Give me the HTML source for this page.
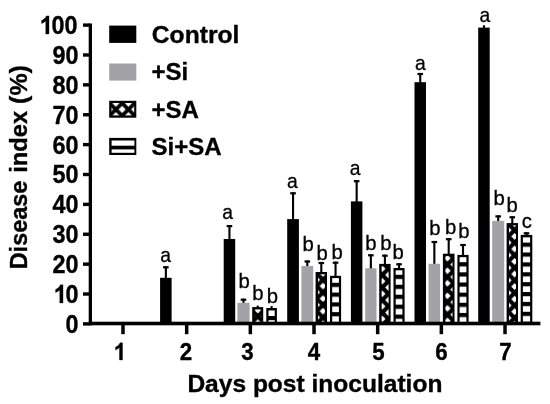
<!DOCTYPE html>
<html><head><meta charset="utf-8"><title>Disease index</title>
<style>html,body{margin:0;padding:0;background:#fff;}svg{display:block;}text{font-family:"Liberation Sans",sans-serif;fill:#000;}.b{font-weight:bold;font-size:24px;stroke:#000;stroke-width:0.35px;}.l{font-size:19.5px;stroke:#000;stroke-width:0.3px;}</style></head><body>
<svg width="550" height="404" viewBox="0 0 550 404">
<defs>
<pattern id="p3" patternUnits="userSpaceOnUse" x="257.80" y="310.10" width="12.55" height="12.55"><rect width="12.55" height="12.55" fill="#000"/><polygon points="-3.30,0.00 0.00,-3.30 3.30,0.00 0.00,3.30" fill="#fff"/><polygon points="9.25,0.00 12.55,-3.30 15.85,0.00 12.55,3.30" fill="#fff"/><polygon points="-3.30,12.55 0.00,9.25 3.30,12.55 0.00,15.85" fill="#fff"/><polygon points="9.25,12.55 12.55,9.25 15.85,12.55 12.55,15.85" fill="#fff"/><polygon points="2.98,6.28 6.28,2.98 9.57,6.28 6.28,9.57" fill="#fff"/></pattern>
<pattern id="p4" patternUnits="userSpaceOnUse" x="0" y="316.00" width="30" height="10.0"><rect width="30" height="10.0" fill="#fff"/><rect width="30" height="4.2" fill="#000"/></pattern>
<pattern id="p7" patternUnits="userSpaceOnUse" x="316.70" y="279.80" width="12.55" height="12.55"><rect width="12.55" height="12.55" fill="#000"/><polygon points="-3.30,0.00 0.00,-3.30 3.30,0.00 0.00,3.30" fill="#fff"/><polygon points="9.25,0.00 12.55,-3.30 15.85,0.00 12.55,3.30" fill="#fff"/><polygon points="-3.30,12.55 0.00,9.25 3.30,12.55 0.00,15.85" fill="#fff"/><polygon points="9.25,12.55 12.55,9.25 15.85,12.55 12.55,15.85" fill="#fff"/><polygon points="2.98,6.28 6.28,2.98 9.57,6.28 6.28,9.57" fill="#fff"/></pattern>
<pattern id="p8" patternUnits="userSpaceOnUse" x="0" y="282.80" width="30" height="9.78"><rect width="30" height="9.78" fill="#fff"/><rect width="30" height="4.2" fill="#000"/></pattern>
<pattern id="p11" patternUnits="userSpaceOnUse" x="382.20" y="268.70" width="12.55" height="12.55"><rect width="12.55" height="12.55" fill="#000"/><polygon points="-3.30,0.00 0.00,-3.30 3.30,0.00 0.00,3.30" fill="#fff"/><polygon points="9.25,0.00 12.55,-3.30 15.85,0.00 12.55,3.30" fill="#fff"/><polygon points="-3.30,12.55 0.00,9.25 3.30,12.55 0.00,15.85" fill="#fff"/><polygon points="9.25,12.55 12.55,9.25 15.85,12.55 12.55,15.85" fill="#fff"/><polygon points="2.98,6.28 6.28,2.98 9.57,6.28 6.28,9.57" fill="#fff"/></pattern>
<pattern id="p12" patternUnits="userSpaceOnUse" x="0" y="274.80" width="30" height="9.95"><rect width="30" height="9.95" fill="#fff"/><rect width="30" height="4.2" fill="#000"/></pattern>
<pattern id="p15" patternUnits="userSpaceOnUse" x="447.40" y="258.20" width="12.55" height="12.55"><rect width="12.55" height="12.55" fill="#000"/><polygon points="-3.30,0.00 0.00,-3.30 3.30,0.00 0.00,3.30" fill="#fff"/><polygon points="9.25,0.00 12.55,-3.30 15.85,0.00 12.55,3.30" fill="#fff"/><polygon points="-3.30,12.55 0.00,9.25 3.30,12.55 0.00,15.85" fill="#fff"/><polygon points="9.25,12.55 12.55,9.25 15.85,12.55 12.55,15.85" fill="#fff"/><polygon points="2.98,6.28 6.28,2.98 9.57,6.28 6.28,9.57" fill="#fff"/></pattern>
<pattern id="p16" patternUnits="userSpaceOnUse" x="0" y="262.20" width="30" height="10.14"><rect width="30" height="10.14" fill="#fff"/><rect width="30" height="4.2" fill="#000"/></pattern>
<pattern id="p19" patternUnits="userSpaceOnUse" x="508.30" y="230.10" width="12.55" height="12.55"><rect width="12.55" height="12.55" fill="#000"/><polygon points="-3.30,0.00 0.00,-3.30 3.30,0.00 0.00,3.30" fill="#fff"/><polygon points="9.25,0.00 12.55,-3.30 15.85,0.00 12.55,3.30" fill="#fff"/><polygon points="-3.30,12.55 0.00,9.25 3.30,12.55 0.00,15.85" fill="#fff"/><polygon points="9.25,12.55 12.55,9.25 15.85,12.55 12.55,15.85" fill="#fff"/><polygon points="2.98,6.28 6.28,2.98 9.57,6.28 6.28,9.57" fill="#fff"/></pattern>
<pattern id="p20" patternUnits="userSpaceOnUse" x="0" y="242.60" width="30" height="9.886"><rect width="30" height="9.886" fill="#fff"/><rect width="30" height="4.2" fill="#000"/></pattern>
<pattern id="cxl" patternUnits="userSpaceOnUse" x="122.15" y="109.45" width="12.55" height="12.55"><rect width="12.55" height="12.55" fill="#000"/><polygon points="-3.65,0.00 0.00,-3.65 3.65,0.00 0.00,3.65" fill="#fff"/><polygon points="8.90,0.00 12.55,-3.65 16.20,0.00 12.55,3.65" fill="#fff"/><polygon points="-3.65,12.55 0.00,8.90 3.65,12.55 0.00,16.20" fill="#fff"/><polygon points="8.90,12.55 12.55,8.90 16.20,12.55 12.55,16.20" fill="#fff"/><polygon points="2.63,6.28 6.28,2.63 9.93,6.28 6.28,9.93" fill="#fff"/></pattern>
<filter id="soft" filterUnits="userSpaceOnUse" x="0" y="0" width="550" height="404"><feGaussianBlur stdDeviation="0.45"/></filter>
</defs>
<rect width="550" height="404" fill="#fff"/>
<g filter="url(#soft)">
<rect width="550" height="404" fill="#fff"/>
<rect x="164.80" y="266.30" width="2.1" height="12.50" fill="#000"/>
<rect x="163.05" y="266.20" width="5.6" height="2.2" fill="#000"/>
<rect x="160.10" y="277.80" width="11.50" height="45.70" fill="#000"/>
<rect x="228.40" y="225.10" width="2.1" height="14.90" fill="#000"/>
<rect x="226.65" y="225.00" width="5.6" height="2.2" fill="#000"/>
<rect x="223.70" y="239.00" width="11.50" height="84.50" fill="#000"/>
<rect x="242.45" y="298.70" width="2.1" height="5.10" fill="#000"/>
<rect x="240.70" y="298.60" width="5.6" height="2.2" fill="#000"/>
<rect x="237.40" y="302.80" width="12.20" height="20.70" fill="#a3a3a7"/>
<rect x="256.65" y="305.60" width="2.1" height="2.50" fill="#000"/>
<rect x="252.20" y="307.10" width="11.00" height="16.40" fill="#000"/>
<rect x="254.60" y="309.40" width="6.60" height="14.10" fill="url(#p3)"/>
<rect x="270.55" y="306.10" width="2.1" height="2.90" fill="#000"/>
<rect x="266.30" y="308.00" width="10.60" height="15.50" fill="#000"/>
<rect x="268.50" y="310.30" width="6.20" height="13.20" fill="url(#p4)"/>
<rect x="292.00" y="192.30" width="2.1" height="27.80" fill="#000"/>
<rect x="290.25" y="192.20" width="5.6" height="2.2" fill="#000"/>
<rect x="287.20" y="219.10" width="11.70" height="104.40" fill="#000"/>
<rect x="306.25" y="260.50" width="2.1" height="6.50" fill="#000"/>
<rect x="304.50" y="260.40" width="5.6" height="2.2" fill="#000"/>
<rect x="301.40" y="266.00" width="11.80" height="57.50" fill="#a3a3a7"/>
<rect x="320.25" y="262.00" width="2.1" height="11.00" fill="#000"/>
<rect x="318.50" y="261.90" width="5.6" height="2.2" fill="#000"/>
<rect x="315.60" y="272.00" width="11.40" height="51.50" fill="#000"/>
<rect x="318.00" y="274.30" width="7.00" height="49.20" fill="url(#p7)"/>
<rect x="334.50" y="261.70" width="2.1" height="15.10" fill="#000"/>
<rect x="332.75" y="261.60" width="5.6" height="2.2" fill="#000"/>
<rect x="330.00" y="275.80" width="11.10" height="47.70" fill="#000"/>
<rect x="332.20" y="278.10" width="6.70" height="45.40" fill="url(#p8)"/>
<rect x="355.60" y="180.20" width="2.1" height="22.20" fill="#000"/>
<rect x="353.85" y="180.10" width="5.6" height="2.2" fill="#000"/>
<rect x="350.90" y="201.40" width="11.50" height="122.10" fill="#000"/>
<rect x="369.80" y="254.30" width="2.1" height="15.00" fill="#000"/>
<rect x="368.05" y="254.20" width="5.6" height="2.2" fill="#000"/>
<rect x="365.20" y="268.30" width="11.30" height="55.20" fill="#a3a3a7"/>
<rect x="383.85" y="254.70" width="2.1" height="10.20" fill="#000"/>
<rect x="382.10" y="254.60" width="5.6" height="2.2" fill="#000"/>
<rect x="379.20" y="263.90" width="11.40" height="59.60" fill="#000"/>
<rect x="381.60" y="266.20" width="7.00" height="57.30" fill="url(#p11)"/>
<rect x="398.00" y="263.30" width="2.1" height="5.70" fill="#000"/>
<rect x="396.25" y="263.20" width="5.6" height="2.2" fill="#000"/>
<rect x="393.50" y="268.00" width="11.10" height="55.50" fill="#000"/>
<rect x="395.70" y="270.30" width="6.70" height="53.20" fill="url(#p12)"/>
<rect x="419.20" y="73.00" width="2.1" height="10.20" fill="#000"/>
<rect x="417.45" y="72.90" width="5.6" height="2.2" fill="#000"/>
<rect x="414.50" y="82.20" width="11.50" height="241.30" fill="#000"/>
<rect x="433.30" y="241.00" width="2.1" height="23.80" fill="#000"/>
<rect x="431.55" y="240.90" width="5.6" height="2.2" fill="#000"/>
<rect x="428.60" y="263.80" width="11.50" height="59.70" fill="#a3a3a7"/>
<rect x="447.65" y="238.20" width="2.1" height="16.50" fill="#000"/>
<rect x="445.90" y="238.10" width="5.6" height="2.2" fill="#000"/>
<rect x="442.90" y="253.70" width="11.60" height="69.80" fill="#000"/>
<rect x="445.30" y="256.00" width="7.20" height="67.50" fill="url(#p15)"/>
<rect x="461.95" y="244.00" width="2.1" height="11.90" fill="#000"/>
<rect x="460.20" y="243.90" width="5.6" height="2.2" fill="#000"/>
<rect x="457.40" y="254.90" width="11.20" height="68.60" fill="#000"/>
<rect x="459.60" y="257.20" width="6.80" height="66.30" fill="url(#p16)"/>
<rect x="482.90" y="25.30" width="2.1" height="3.30" fill="#000"/>
<rect x="478.20" y="27.60" width="11.50" height="295.90" fill="#000"/>
<rect x="497.15" y="215.40" width="2.1" height="6.50" fill="#000"/>
<rect x="495.40" y="215.30" width="5.6" height="2.2" fill="#000"/>
<rect x="492.20" y="220.90" width="12.00" height="102.60" fill="#a3a3a7"/>
<rect x="511.25" y="216.30" width="2.1" height="7.80" fill="#000"/>
<rect x="509.50" y="216.20" width="5.6" height="2.2" fill="#000"/>
<rect x="506.60" y="223.10" width="11.40" height="100.40" fill="#000"/>
<rect x="509.00" y="225.40" width="7.00" height="98.10" fill="url(#p19)"/>
<rect x="525.45" y="232.30" width="2.1" height="3.60" fill="#000"/>
<rect x="523.70" y="232.20" width="5.6" height="2.2" fill="#000"/>
<rect x="520.70" y="234.90" width="11.60" height="88.60" fill="#000"/>
<rect x="522.90" y="237.20" width="7.20" height="86.30" fill="url(#p20)"/>
<rect x="88.7" y="23.5" width="3.3" height="301.8" fill="#000"/>
<rect x="88.7" y="321.7" width="451.7" height="3.6" fill="#000"/>
<rect x="83" y="322.20" width="7" height="3.4" fill="#000"/>
<text class="b" transform="translate(78.60,332.80) scale(0.975,1.05)" text-anchor="end">0</text>
<rect x="83" y="292.32" width="7" height="3.4" fill="#000"/>
<text class="b" transform="translate(78.60,302.92) scale(0.975,1.05)" text-anchor="end">0</text>
<path d="M806 0H525V1059Q371 915 162 846V1101Q272 1137 401 1237.5Q530 1338 578 1472H806Z" stroke="#000" stroke-width="30" transform="translate(53.77,302.92) scale(0.01143,-0.01230)"/>
<rect x="83" y="262.44" width="7" height="3.4" fill="#000"/>
<text class="b" transform="translate(78.60,273.04) scale(0.975,1.05)" text-anchor="end">20</text>
<rect x="83" y="232.56" width="7" height="3.4" fill="#000"/>
<text class="b" transform="translate(78.60,243.16) scale(0.975,1.05)" text-anchor="end">30</text>
<rect x="83" y="202.68" width="7" height="3.4" fill="#000"/>
<text class="b" transform="translate(78.60,213.28) scale(0.975,1.05)" text-anchor="end">40</text>
<rect x="83" y="172.80" width="7" height="3.4" fill="#000"/>
<text class="b" transform="translate(78.60,183.40) scale(0.975,1.05)" text-anchor="end">50</text>
<rect x="83" y="142.92" width="7" height="3.4" fill="#000"/>
<text class="b" transform="translate(78.60,153.52) scale(0.975,1.05)" text-anchor="end">60</text>
<rect x="83" y="113.04" width="7" height="3.4" fill="#000"/>
<text class="b" transform="translate(78.60,123.64) scale(0.975,1.05)" text-anchor="end">70</text>
<rect x="83" y="83.16" width="7" height="3.4" fill="#000"/>
<text class="b" transform="translate(78.60,93.76) scale(0.975,1.05)" text-anchor="end">80</text>
<rect x="83" y="53.28" width="7" height="3.4" fill="#000"/>
<text class="b" transform="translate(78.60,63.88) scale(0.975,1.05)" text-anchor="end">90</text>
<rect x="83" y="23.40" width="7" height="3.4" fill="#000"/>
<text class="b" transform="translate(77.60,34.00) scale(0.975,1.05)" text-anchor="end">00</text>
<path d="M806 0H525V1059Q371 915 162 846V1101Q272 1137 401 1237.5Q530 1338 578 1472H806Z" stroke="#000" stroke-width="30" transform="translate(39.76,34.00) scale(0.01143,-0.01230)"/>
<rect x="121.25" y="323" width="3.5" height="11.2" fill="#000"/>
<path d="M806 0H525V1059Q371 915 162 846V1101Q272 1137 401 1237.5Q530 1338 578 1472H806Z" stroke="#000" stroke-width="30" transform="translate(113.72,360.00) scale(0.01090,-0.01172)"/>
<rect x="184.92" y="323" width="3.5" height="11.2" fill="#000"/>
<text class="b" transform="translate(185.85,360.0) scale(0.93,1)" text-anchor="middle">2</text>
<rect x="248.59" y="323" width="3.5" height="11.2" fill="#000"/>
<text class="b" transform="translate(247.35,360.0) scale(0.93,1)" text-anchor="middle">3</text>
<rect x="312.26" y="323" width="3.5" height="11.2" fill="#000"/>
<text class="b" transform="translate(313.85,360.0) scale(0.93,1)" text-anchor="middle">4</text>
<rect x="375.93" y="323" width="3.5" height="11.2" fill="#000"/>
<text class="b" transform="translate(378.35,360.0) scale(0.93,1)" text-anchor="middle">5</text>
<rect x="439.60" y="323" width="3.5" height="11.2" fill="#000"/>
<text class="b" transform="translate(441.40,360.0) scale(0.93,1)" text-anchor="middle">6</text>
<rect x="503.27" y="323" width="3.5" height="11.2" fill="#000"/>
<text class="b" transform="translate(505.40,360.0) scale(0.93,1)" text-anchor="middle">7</text>
<text class="b" x="314.90" y="391.50" text-anchor="middle" textLength="255.0" lengthAdjust="spacingAndGlyphs">Days post inoculation</text>
<text class="b" transform="translate(26.6,269.3) rotate(-90)" textLength="88.6" lengthAdjust="spacingAndGlyphs">Disease</text>
<text class="b" transform="translate(26.6,172.8) rotate(-90)" textLength="62.0" lengthAdjust="spacingAndGlyphs">index</text>
<text class="b" transform="translate(26.6,103.9) rotate(-90)" textLength="38.8" lengthAdjust="spacingAndGlyphs">(%)</text>
<rect x="109.2" y="25.6" width="27.1" height="17.3" fill="#000"/>
<rect x="109.2" y="63.5" width="27.1" height="17.1" fill="#a3a3a7"/>
<rect x="109.2" y="100.8" width="27.1" height="16.9" fill="#000"/>
<rect x="111.5" y="103.0" width="22.7" height="12.4" fill="url(#cxl)"/>
<rect x="109.2" y="137.9" width="27.1" height="17.1" fill="#000"/>
<rect x="111.6" y="140.5" width="22.8" height="5.2" fill="#fff"/>
<rect x="111.6" y="149.4" width="22.8" height="3.4" fill="#fff"/>
<text class="b" x="151.80" y="43.10" text-anchor="start" textLength="87.6" lengthAdjust="spacingAndGlyphs">Control</text>
<text class="b" x="151.50" y="80.10" text-anchor="start">+Si</text>
<text class="b" x="151.50" y="117.50" text-anchor="start">+SA</text>
<text class="b" x="151.50" y="155.00" text-anchor="start">Si+SA</text>
<text class="l" style="font-size:20.5px" transform="translate(165.70,261.50) scale(0.94,1)" text-anchor="middle">a</text>
<text class="l" style="font-size:20.5px" transform="translate(227.70,219.20) scale(0.94,1)" text-anchor="middle">a</text>
<text class="l" transform="translate(244.20,287.60) scale(1.04,1)" text-anchor="middle">b</text>
<text class="l" transform="translate(258.00,299.60) scale(1.04,1)" text-anchor="middle">b</text>
<text class="l" transform="translate(272.30,302.60) scale(1.04,1)" text-anchor="middle">b</text>
<text class="l" style="font-size:20.5px" transform="translate(292.30,187.50) scale(0.94,1)" text-anchor="middle">a</text>
<text class="l" transform="translate(308.20,250.90) scale(1.04,1)" text-anchor="middle">b</text>
<text class="l" transform="translate(322.10,260.40) scale(1.04,1)" text-anchor="middle">b</text>
<text class="l" transform="translate(337.10,259.20) scale(1.04,1)" text-anchor="middle">b</text>
<text class="l" style="font-size:20.5px" transform="translate(355.20,175.10) scale(0.94,1)" text-anchor="middle">a</text>
<text class="l" transform="translate(370.80,249.90) scale(1.04,1)" text-anchor="middle">b</text>
<text class="l" transform="translate(386.00,250.00) scale(1.04,1)" text-anchor="middle">b</text>
<text class="l" transform="translate(398.20,258.50) scale(1.04,1)" text-anchor="middle">b</text>
<text class="l" style="font-size:20.5px" transform="translate(420.30,70.40) scale(0.94,1)" text-anchor="middle">a</text>
<text class="l" transform="translate(434.90,234.90) scale(1.04,1)" text-anchor="middle">b</text>
<text class="l" transform="translate(450.60,234.30) scale(1.04,1)" text-anchor="middle">b</text>
<text class="l" transform="translate(464.00,237.90) scale(1.04,1)" text-anchor="middle">b</text>
<text class="l" style="font-size:20.5px" transform="translate(484.90,21.60) scale(0.94,1)" text-anchor="middle">a</text>
<text class="l" transform="translate(499.20,204.90) scale(1.04,1)" text-anchor="middle">b</text>
<text class="l" transform="translate(512.10,212.30) scale(1.04,1)" text-anchor="middle">b</text>
<text class="l" transform="translate(526.80,227.80) scale(1.04,1)" text-anchor="middle">c</text>
</g>
</svg></body></html>
